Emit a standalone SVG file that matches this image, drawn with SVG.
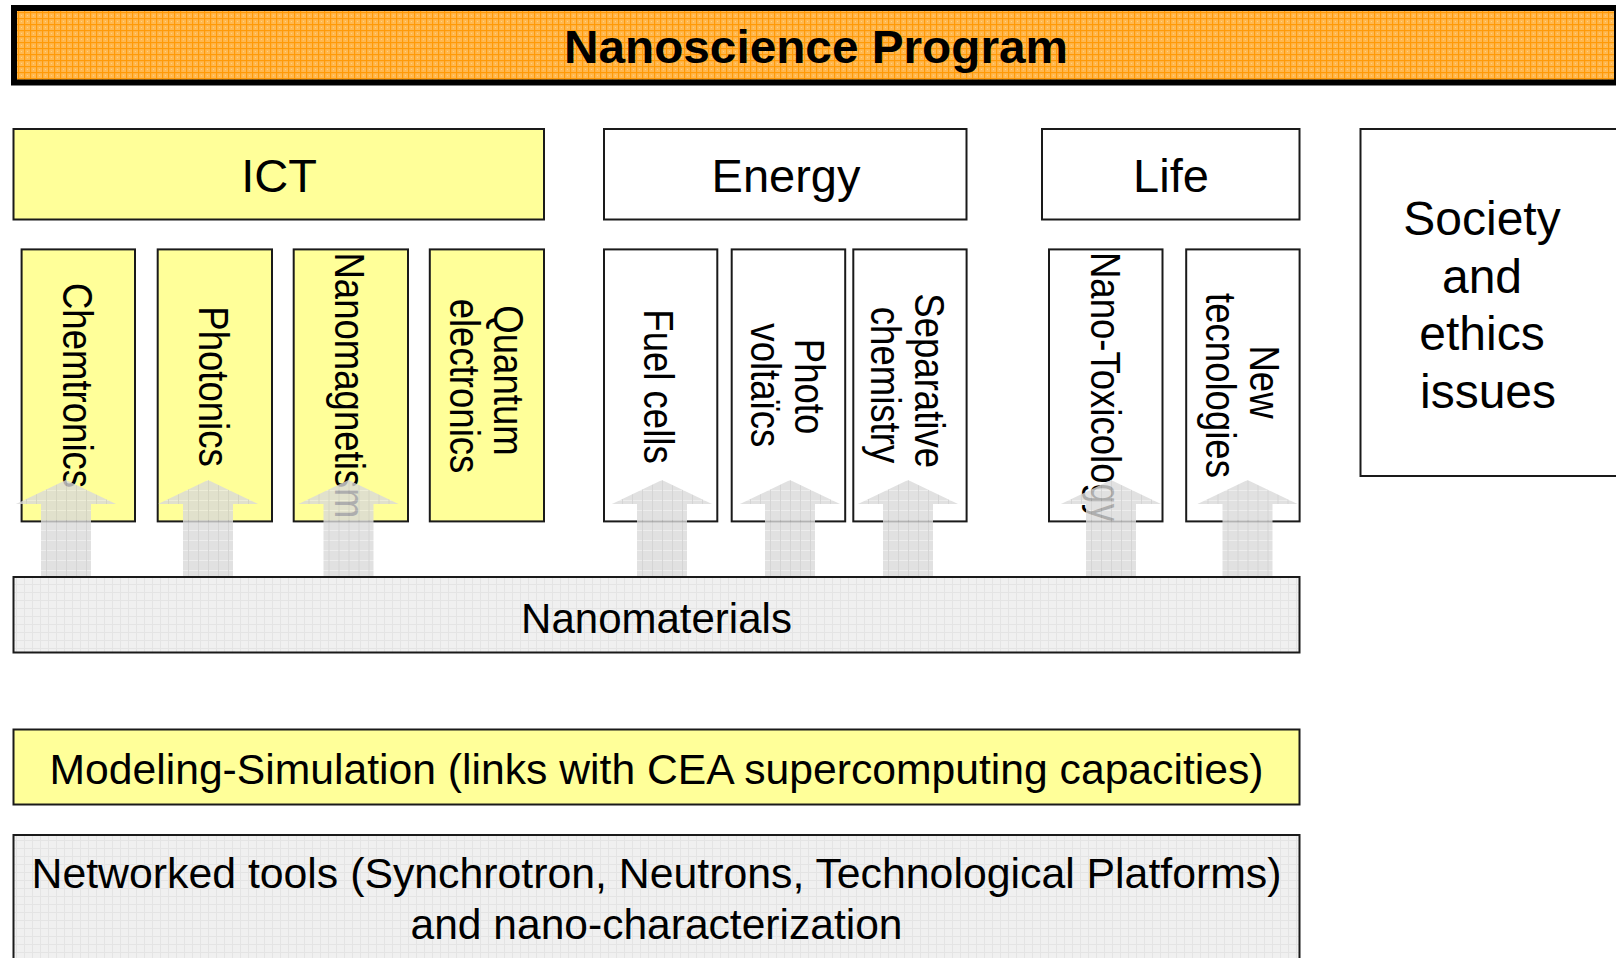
<svg xmlns="http://www.w3.org/2000/svg" width="1616" height="958" viewBox="0 0 1616 958">
  <defs>
    <!-- fine woven texture for the title banner -->
    <pattern id="orangeWeave" width="6" height="6" patternUnits="userSpaceOnUse">
      <rect width="6" height="6" fill="#FFB850"/>
      <rect x="0" y="0" width="6" height="1.2" fill="#FF9A08"/>
      <rect x="0" y="0" width="1.2" height="6" fill="#FF9A08"/>
      <rect x="3" y="3" width="1" height="1" fill="#FFD27F"/>
    </pattern>
    <!-- soft grey grid used by arrows and base layers -->
    <pattern id="greyGrid" width="10" height="10" patternUnits="userSpaceOnUse">
      <rect width="10" height="10" fill="#D9D9D9"/>
      <rect x="0" y="0" width="10" height="1" fill="#E8E8E8"/>
      <rect x="0" y="0" width="1" height="10" fill="#CBCBCB"/>
    </pattern>
    <pattern id="lightGrid" width="8" height="8" patternUnits="userSpaceOnUse">
      <rect width="8" height="8" fill="#F0F0F0"/>
      <rect x="0" y="0" width="8" height="1" fill="#E4E4E4"/>
      <rect x="0" y="0" width="1" height="8" fill="#E4E4E4"/>
    </pattern>
    <!-- upward block arrow, tip at origin -->
    <path id="upArrow" d="M0,0 L50,24 L25,24 L25,97 L-25,97 L-25,24 L-50,24 Z"/>
  </defs>
  <style>
    text { font-family: "Liberation Sans", Arial, sans-serif; fill: #000; }
    .box { stroke: #1a1a1a; stroke-width: 2; }
    .yellow { fill: #FFFF99; }
    .white { fill: #FFFFFF; }
    .grey { fill: url(#lightGrid); }
    .head { font-size: 47px; text-anchor: middle; }
    .vert { font-size: 43px; text-anchor: middle; }
    .wide { font-size: 43px; text-anchor: middle; }
    .arrow { fill: url(#greyGrid); opacity: 0.8; }
  </style>

  <rect width="1616" height="958" fill="#FFFFFF"/>

  <!-- title banner -->
  <g id="banner">
    <rect x="14" y="8" width="1603" height="74.5" fill="url(#orangeWeave)" stroke="#000" stroke-width="6"/>
    <text x="816" y="63" font-size="47" font-weight="bold" text-anchor="middle" textLength="504" lengthAdjust="spacingAndGlyphs">Nanoscience Program</text>
  </g>

  <!-- theme headers -->
  <g id="ict">
    <rect class="box yellow" x="13.5" y="129" width="530.5" height="90.5"/>
    <text class="head" x="279" y="191.7">ICT</text>
  </g>
  <g id="energy">
    <rect class="box white" x="604" y="129" width="362.5" height="90.5"/>
    <text class="head" x="786" y="191.7">Energy</text>
  </g>
  <g id="life">
    <rect class="box white" x="1042" y="129" width="257.5" height="90.5"/>
    <text class="head" x="1171" y="191.7">Life</text>
  </g>
  <g id="society">
    <rect class="box white" x="1360.5" y="129" width="270" height="347"/>
    <text x="1482" y="235" font-size="48" text-anchor="middle">Society</text>
    <text x="1482" y="292.5" font-size="48" text-anchor="middle">and</text>
    <text x="1482" y="350" font-size="48" text-anchor="middle">ethics</text>
    <text x="1488" y="407.5" font-size="48" text-anchor="middle">issues</text>
  </g>

  <!-- ICT topics -->
  <g id="chemtronics">
    <rect class="box yellow" x="21.6" y="249.4" width="113.4" height="272"/>
    <text class="vert" transform="translate(63,385.5) rotate(90) scale(0.85,1)">Chemtronics</text>
  </g>
  <g id="photonics">
    <rect class="box yellow" x="157.7" y="249.4" width="114.3" height="272"/>
    <text class="vert" transform="translate(199,386.5) rotate(90) scale(0.85,1)">Photonics</text>
  </g>
  <g id="nanomagnetism">
    <rect class="box yellow" x="293.7" y="249.4" width="114.3" height="272"/>
    <text class="vert" transform="translate(335,385.5) rotate(90) scale(0.85,1)">Nanomagnetism</text>
  </g>
  <g id="quantum">
    <rect class="box yellow" x="429.8" y="249.4" width="114.2" height="272"/>
    <text class="vert" transform="translate(494,380.5) rotate(90) scale(0.85,1)">Quantum</text>
    <text class="vert" transform="translate(450,386) rotate(90) scale(0.85,1)">electronics</text>
  </g>

  <!-- Energy topics -->
  <g id="fuelcells">
    <rect class="box white" x="604" y="249.4" width="113.3" height="272"/>
    <text class="vert" transform="translate(644,386.5) rotate(90) scale(0.85,1)">Fuel cells</text>
  </g>
  <g id="photovoltaics">
    <rect class="box white" x="731.7" y="249.4" width="113.5" height="272"/>
    <text class="vert" transform="translate(795,386.5) rotate(90) scale(0.85,1)">Photo</text>
    <text class="vert" transform="translate(751,385.3) rotate(90) scale(0.85,1)">voltaïcs</text>
  </g>
  <g id="separative">
    <rect class="box white" x="853.3" y="249.4" width="113.3" height="272"/>
    <text class="vert" transform="translate(915,380.7) rotate(90) scale(0.85,1)">Separative</text>
    <text class="vert" transform="translate(871,385) rotate(90) scale(0.85,1)">chemistry</text>
  </g>

  <!-- Life topics -->
  <g id="nanotox">
    <rect class="box white" x="1049" y="249.4" width="113.5" height="272"/>
    <text class="vert" transform="translate(1091,387) rotate(90) scale(0.85,1)">Nano-Toxicology</text>
  </g>
  <g id="newtech">
    <rect class="box white" x="1186.2" y="249.4" width="113.4" height="272"/>
    <text class="vert" transform="translate(1250,382) rotate(90) scale(0.85,1)">New</text>
    <text class="vert" transform="translate(1206,385.5) rotate(90) scale(0.85,1)">tecnologies</text>
  </g>

  <!-- upward arrows from the nanomaterials layer -->
  <g id="connectors">
    <use href="#upArrow" class="arrow" x="66" y="480"/>
    <use href="#upArrow" class="arrow" x="208" y="480"/>
    <use href="#upArrow" class="arrow" x="348.5" y="480"/>
    <use href="#upArrow" class="arrow" x="662" y="480"/>
    <use href="#upArrow" class="arrow" x="790" y="480"/>
    <use href="#upArrow" class="arrow" x="908" y="480"/>
    <use href="#upArrow" class="arrow" x="1111" y="480"/>
    <use href="#upArrow" class="arrow" x="1247.5" y="480"/>
  </g>

  <!-- base layers -->
  <g id="nanomaterials">
    <rect class="box grey" x="13.5" y="577" width="1286" height="75.5"/>
    <text x="656.5" y="632.5" font-size="42" text-anchor="middle">Nanomaterials</text>
  </g>
  <g id="modeling">
    <rect class="box yellow" x="13.5" y="729.5" width="1286" height="75"/>
    <text class="wide" x="656.5" y="784" textLength="1214" lengthAdjust="spacingAndGlyphs">Modeling-Simulation (links with CEA supercomputing capacities)</text>
  </g>
  <g id="tools">
    <rect class="box grey" x="13.5" y="835" width="1286" height="140"/>
    <text class="wide" x="656.5" y="887.5" textLength="1250" lengthAdjust="spacingAndGlyphs">Networked tools (Synchrotron, Neutrons, Technological Platforms)</text>
    <text class="wide" x="656.5" y="939" textLength="492" lengthAdjust="spacingAndGlyphs">and nano-characterization</text>
  </g>
</svg>
